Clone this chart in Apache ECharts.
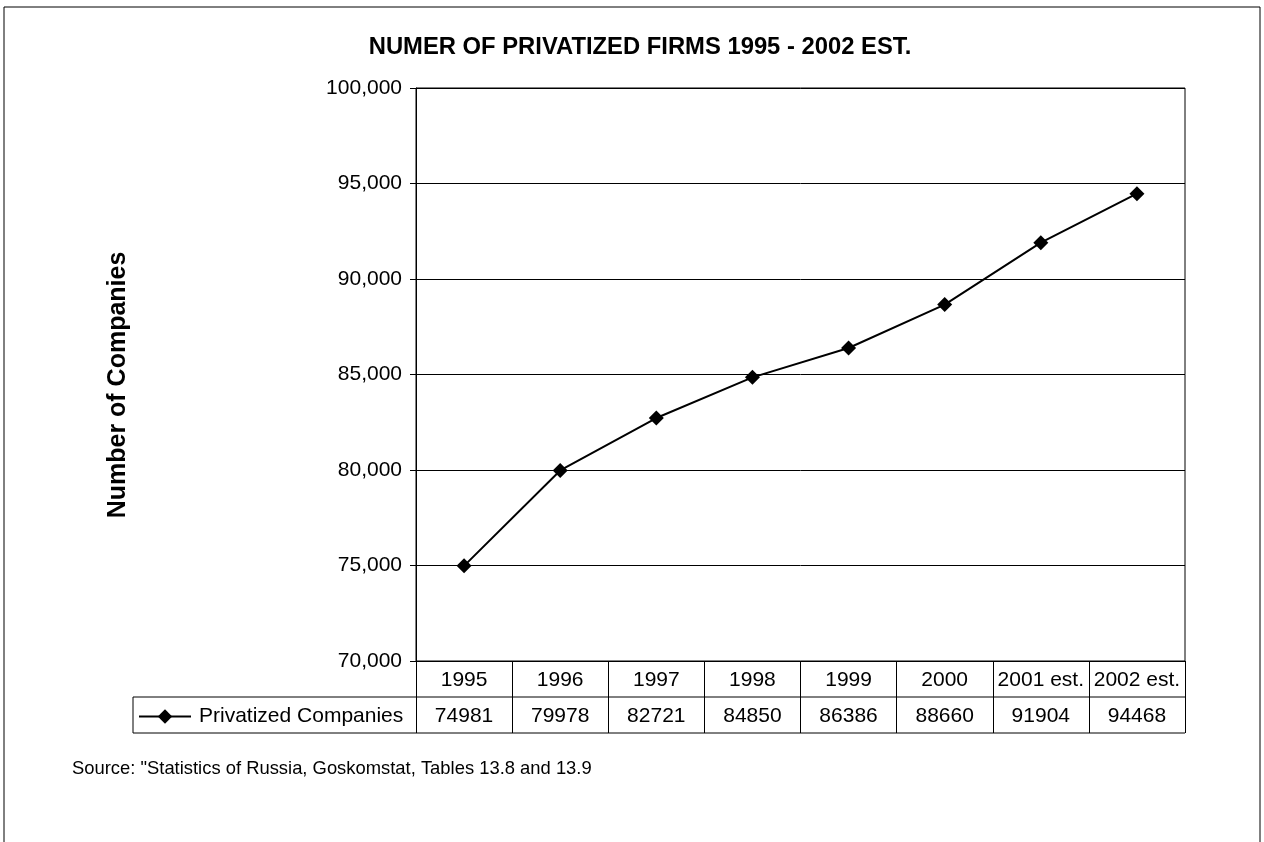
<!DOCTYPE html>
<html>
<head>
<meta charset="utf-8">
<style>
  html, body { margin: 0; padding: 0; background: #fff; }
  #chart { width: 1264px; height: 842px; }
</style>
<script src="https://cdn.jsdelivr.net/npm/echarts@6/dist/echarts.min.js"></script>
</head>
<body>
<div id="chart"></div>
<script>
// Privatized firms per year, with the last two years estimated
const years = ['1995', '1996', '1997', '1998', '1999', '2000', '2001 est.', '2002 est.'];
const privatizedCompanies = [74981, 79978, 82721, 84850, 86386, 88660, 91904, 94468];
const seriesName = 'Privatized Companies';
const yTicks = { min: 70000, max: 100000, step: 5000 };

const FONT = '"Liberation Sans", Arial, sans-serif';

// Plot box and data-table geometry
const grid = { left: 416, top: 88, right: 1185, bottom: 661 };
const rowH = 36;
const tableLeft = 133;

const chart = echarts.init(document.getElementById('chart'));

chart.setOption({
  animation: false,
  backgroundColor: '#fff',
  textStyle: { fontFamily: FONT, color: '#000' },
  title: {
    text: 'NUMER OF PRIVATIZED FIRMS 1995 - 2002 EST.',
    left: 640,
    top: 35,
    padding: 0,
    textAlign: 'center',
    textStyle: { fontFamily: FONT, fontSize: 23.8, fontWeight: 'bold', color: '#000' }
  },
  legend: {
    data: [seriesName],
    left: 138,
    top: grid.bottom + rowH + 9,
    padding: 0,
    itemWidth: 52,
    itemHeight: 18,
    selectedMode: false,
    textStyle: { fontFamily: FONT, fontSize: 21, color: '#000', padding: [0, 0, 0, 3] }
  },
  grid: {
    left: grid.left,
    top: grid.top,
    width: grid.right - grid.left,
    height: grid.bottom - grid.top,
    show: true,
    borderColor: '#000',
    borderWidth: 1,
    backgroundColor: 'transparent'
  },
  xAxis: [
    {
      type: 'category',
      data: years,
      position: 'bottom',
      boundaryGap: true,
      axisLine: { show: true, lineStyle: { color: '#000', width: 1 } },
      axisTick: { show: true, interval: 0, length: rowH * 2, lineStyle: { color: '#000', width: 1 } },
      axisLabel: { interval: 0, margin: 9, fontFamily: FONT, fontSize: 21, color: '#000' },
      splitLine: { show: false }
    },
    {
      type: 'category',
      data: privatizedCompanies.map(String),
      position: 'bottom',
      offset: rowH,
      boundaryGap: true,
      axisLine: { show: false },
      axisTick: { show: false },
      axisLabel: { interval: 0, margin: 9, fontFamily: FONT, fontSize: 21, color: '#000' },
      splitLine: { show: false }
    }
  ],
  yAxis: {
    type: 'value',
    min: yTicks.min,
    max: yTicks.max,
    interval: yTicks.step,
    axisLine: { show: true, lineStyle: { color: '#000', width: 1 } },
    axisTick: { show: true, length: 6, lineStyle: { color: '#000' } },
    axisLabel: {
      margin: 14,
      fontFamily: FONT,
      fontSize: 21,
      color: '#000',
      formatter: v => v.toLocaleString('en-US')
    },
    splitLine: { show: true, lineStyle: { color: '#000', width: 1 } }
  },
  series: [
    {
      name: seriesName,
      type: 'line',
      xAxisIndex: 0,
      data: privatizedCompanies,
      symbol: 'diamond',
      symbolSize: 15,
      itemStyle: { color: '#000' },
      lineStyle: { color: '#000', width: 2 }
    }
  ],
  graphic: [
    // outer chart frame
    { type: 'rect', shape: { x: 4, y: 7, width: 1256, height: 850 },
      style: { fill: 'none', stroke: '#000', lineWidth: 1 }, silent: true },
    // data-table rules
    { type: 'line', shape: { x1: tableLeft, y1: grid.bottom + rowH, x2: grid.right, y2: grid.bottom + rowH },
      style: { stroke: '#000', lineWidth: 1 }, silent: true },
    { type: 'line', shape: { x1: tableLeft, y1: grid.bottom + rowH * 2, x2: grid.right, y2: grid.bottom + rowH * 2 },
      style: { stroke: '#000', lineWidth: 1 }, silent: true },
    { type: 'line', shape: { x1: tableLeft, y1: grid.bottom + rowH, x2: tableLeft, y2: grid.bottom + rowH * 2 },
      style: { stroke: '#000', lineWidth: 1 }, silent: true },
    // vertical axis title
    { type: 'text', x: 118, y: 385, rotation: Math.PI / 2,
      style: { text: 'Number of Companies', font: 'bold 25px ' + FONT, fill: '#000',
               align: 'center', verticalAlign: 'middle' }, silent: true },
    // source note
    { type: 'text', left: 72, top: 760,
      style: { text: 'Source: "Statistics of Russia, Goskomstat, Tables 13.8 and 13.9',
               font: '18.4px ' + FONT, fill: '#000' }, silent: true }
  ]
});
</script>
</body>
</html>
